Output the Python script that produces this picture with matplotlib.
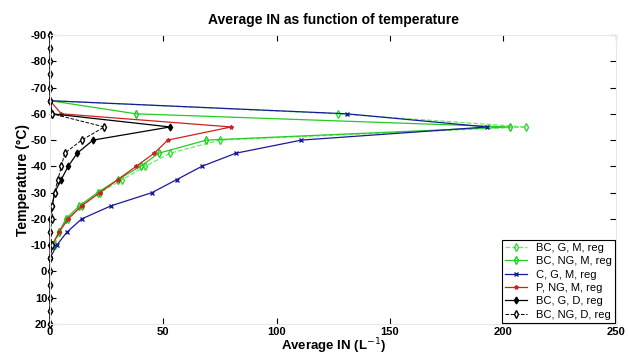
import matplotlib
matplotlib.use("Agg")
import matplotlib.pyplot as plt

plt.rcParams['font.family'] = ['Liberation Sans', 'DejaVu Sans']
plt.rcParams['axes.unicode_minus'] = False

# temperatures (deg C) along each curve
temp_m = [-65, -60, -55, -50, -45, -40, -35, -30, -25, -20, -15, -10, -5]

bc_g_m = [0, 127, 210, 75, 53, 42, 32, 22, 14, 8, 4, 2, 0]
bc_ng_m = [0, 38, 203, 69, 48, 40, 30, 21, 13, 7, 4, 1, 0]
c_g_m = [0, 131, 193, 111, 82, 67, 56, 45, 27, 14, 7.5, 3, 0]
p_ng_m = [0, 5, 80, 52, 46, 38, 30, 22, 14, 8, 4, 1, 0]

temp_d = [-90, -85, -80, -75, -70, -65, -60, -55, -50, -45, -40, -35, -30,
          -25, -20, -15, -10, -5, 0, 5, 10, 15, 20]
bc_g_d = [0, 0, 0, 0, 0, 0, 1, 53, 19, 12, 8, 5, 2, 1, 0, 0, 0, 0, 0, 0, 0, 0, 0]
bc_ng_d = [0, 0, 0, 0, 0, 0, 1, 24, 14, 6.5, 5, 3.5, 2, 1, 1, 0, 1, 0, 0, 0, 0, 0, 0]

fig = plt.figure(figsize=(6.28, 3.59), dpi=100)
ax = fig.add_axes([0.0796, 0.0975, 0.902, 0.805])

ax.plot(bc_g_m, temp_m, '--', color='#66ee66', marker='d', ms=4, mfc='none',
        mec='#33dd33', lw=0.9, label='BC, G, M, reg', clip_on=False)
ax.plot(bc_ng_m, temp_m, '-', color='#22cc22', marker='d', ms=4, mfc='none',
        mec='#22cc22', lw=0.9, label='BC, NG, M, reg', clip_on=False)
ax.plot(c_g_m, temp_m, '-', color='#1a1a99', marker='x', ms=3, lw=0.9,
        label='C, G, M, reg', clip_on=False)
ax.plot(p_ng_m, temp_m, '-', color='#cc2222', marker='*', ms=3, lw=0.9,
        label='P, NG, M, reg', clip_on=False)
ax.plot(bc_g_d, temp_d, '-', color='black', marker='d', ms=3.5, lw=0.9,
        label='BC, G, D, reg', clip_on=False)
ax.plot(bc_ng_d, temp_d, '--', color='black', marker='d', ms=4, mfc='white',
        lw=0.7, label='BC, NG, D, reg', clip_on=False)

ax.set_xlim(0, 250)
ax.set_ylim(20, -90)
ax.set_xticks([0, 50, 100, 150, 200, 250])
ax.set_yticks(list(range(-90, 21, 10)))
ax.tick_params(direction='in', top=True, right=True, length=4, labelsize=8,
               pad=2)
for lab in ax.get_xticklabels() + ax.get_yticklabels():
    lab.set_fontweight('bold')
for s in ax.spines.values():
    s.set_color('#e8e8e8')

ax.set_title('Average IN as function of temperature', fontsize=10,
             fontweight='bold', pad=8)
ax.set_xlabel('Average IN (L$^{-1}$)', fontsize=9.5, fontweight='bold',
              labelpad=0)
ax.set_ylabel('Temperature (°C)', fontsize=10, fontweight='bold', labelpad=1)

leg = ax.legend(loc='lower right', fontsize=8, fancybox=False, framealpha=1,
                edgecolor='black', borderpad=0.3, labelspacing=0.3,
                handlelength=2, borderaxespad=0.1)
leg.get_frame().set_linewidth(0.8)

fig.savefig('out.png', dpi=100)
